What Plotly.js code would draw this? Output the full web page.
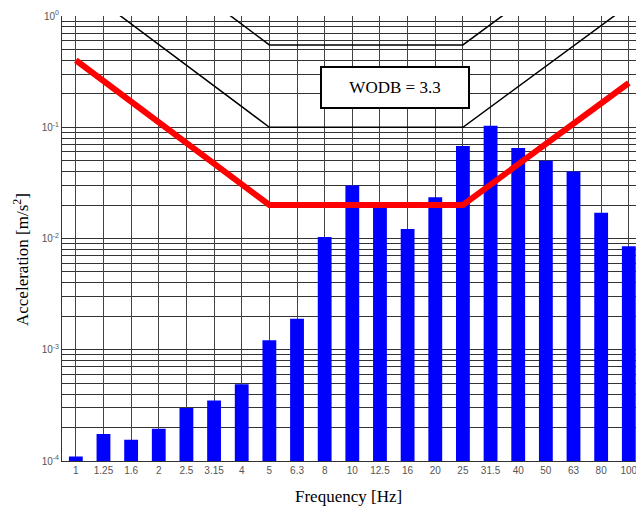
<!DOCTYPE html>
<html>
<head>
<meta charset="utf-8">
<script src="https://cdn.plot.ly/plotly-3.0.1.min.js"></script>
<style>html,body{margin:0;padding:0;background:#fff;}#chart{width:636px;height:508px;}</style>
</head>
<body>
<div id="chart"></div>
<script>
// 1/3-octave band centre frequencies [Hz]
const bands = ['1','1.25','1.6','2','2.5','3.15','4','5','6.3','8','10','12.5','16','20','25','31.5','40','50','63','80','100'];
// measured acceleration per band [m/s²]
const accel = [1.1e-4,1.75e-4,1.55e-4,1.95e-4,3.0e-4,3.5e-4,4.9e-4,1.22e-3,1.9e-3,1.03e-2,3.0e-2,1.9e-2,1.22e-2,2.35e-2,6.8e-2,1.03e-1,6.5e-2,5.0e-2,4.0e-2,1.7e-2,8.5e-3];
// limit curves (break points)
const limitBands = ['1','5','25','100'];
const limitRed = [0.4,0.02,0.02,0.25];
const limitLow = [2.0,0.1,0.1,1.25];
const limitHigh = [11,0.55,0.55,6.9];
// y-axis ticks
const yTickVals = [1e-4,1e-3,1e-2,1e-1,1];
const yTickText = ['10<sup>-4</sup>','10<sup>-3</sup>','10<sup>-2</sup>','10<sup>-1</sup>','10<sup>0</sup>'];
const boxLabel = 'WODB = 3.3';

const serif = 'Liberation Serif, Times New Roman, serif';

const traces = [
  {type:'bar', x:bands, y:accel, marker:{color:'#0000ff', line:{width:0}}, hoverinfo:'x+y'},
  {type:'scatter', mode:'lines', x:limitBands, y:limitLow, line:{color:'#000', width:1.5}},
  {type:'scatter', mode:'lines', x:limitBands, y:limitHigh, line:{color:'#000', width:1.5}},
  {type:'scatter', mode:'lines', x:limitBands, y:limitRed, line:{color:'#ff0000', width:6}}
];

const layout = {
  width:636, height:508,
  margin:{l:62, r:0, t:16, b:47},
  showlegend:false,
  bargap:0.5,
  paper_bgcolor:'#fff', plot_bgcolor:'#fff',
  xaxis:{
    type:'category', range:[-0.5,20.26],
    showgrid:true, gridcolor:'#444', gridwidth:1,
    showline:true, linecolor:'#333', linewidth:1,
    ticks:'', tickfont:{family:'Liberation Sans, Arial', size:10, color:'#555'},
    zeroline:false
  },
  yaxis:{
    type:'log', range:[-4,0],
    tickvals:yTickVals, ticktext:yTickText,
    showgrid:true, gridcolor:'#333', gridwidth:1,
    minor:{dtick:'D1', showgrid:true, gridcolor:'#333', gridwidth:1, ticks:''},
    showline:true, linecolor:'#333', linewidth:1,
    ticks:'', tickfont:{family:'Liberation Sans, Arial', size:10, color:'#555'},
    zeroline:false
  },
  annotations:[
    {xref:'paper', yref:'paper', x:(395-62)/574, y:(461-87.5)/445, xanchor:'center', yanchor:'middle',
     text:boxLabel, showarrow:false, font:{family:serif, size:17, color:'#000'},
     bgcolor:'#fff', bordercolor:'#000', borderwidth:2, width:144, height:37},
    {xref:'paper', yref:'paper', x:(348-62)/574, y:-(496-461)/445, xanchor:'center', yanchor:'middle',
     text:'Frequency [Hz]', showarrow:false, font:{family:serif, size:17, color:'#000'}},
    {xref:'paper', yref:'paper', x:-(62-21)/574, y:(461-260)/445, xanchor:'center', yanchor:'middle', textangle:-90,
     text:'Acceleration [m/s<sup>2</sup>]', showarrow:false, font:{family:serif, size:17, color:'#000'}}
  ]
};

Plotly.newPlot('chart', traces, layout, {displayModeBar:false, staticPlot:true});
</script>
</body>
</html>
